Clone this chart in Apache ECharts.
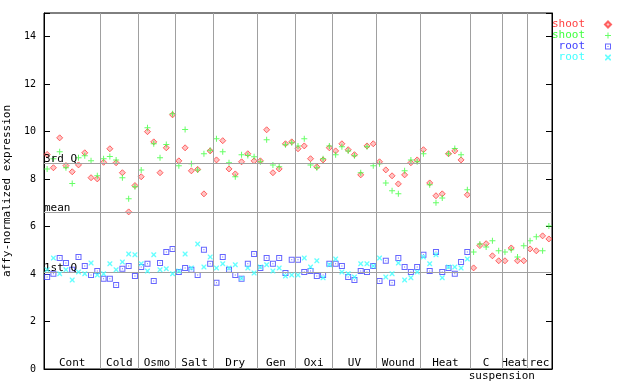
<!DOCTYPE html>
<html><head><meta charset="utf-8">
<script src="https://cdn.jsdelivr.net/npm/echarts@6/dist/echarts.min.js"></script>
<style>html,body{margin:0;padding:0;background:#fff}#c{width:640px;height:384px}</style>
</head><body><div id="c"></div>
<script>
// ---- data ----
const groupNames = ['Cont','Cold','Osmo','Salt','Dry','Gen','Oxi','UV','Wound','Heat','C','Heat','rec'];
const groupSizes = [9,6,6,6,7,6,6,7,7,8,5,4,4];
const subLabel = 'suspension';
const yTicks = [0,2,4,6,8,10,12,14];
const refNames = ['3rd Q','mean','1st Q'];
const refValues = [8.69, 6.62, 4.09];
const seriesNames = ['shoot','shoot','root','root'];

const shootRed = [
  9.04,8.48,9.74,8.57,8.31,8.60,9.11,8.06,8.01,
  8.71,9.28,8.69,8.27,6.62,7.73,
  8.10,10.00,9.57,8.27,9.32,10.71,
  8.77,9.32,8.35,8.41,7.38,9.19,
  8.81,9.62,8.43,8.22,8.73,9.07,8.77,
  8.77,10.08,8.27,8.43,9.49,9.57,
  9.28,9.40,8.86,8.52,8.81,9.32,
  9.19,9.49,9.24,9.03,8.18,9.40,9.49,
  8.73,8.39,8.14,7.80,8.18,8.69,8.81,
  9.24,7.84,7.30,7.38,9.07,9.19,8.81,7.34,
  4.26,5.20,5.28,4.77,4.56,
  4.56,5.10,4.56,4.56,
  5.06,4.98,5.61,5.48
];
const shootGreen = [
  8.43,8.86,9.15,8.48,7.82,8.90,8.98,8.77,8.14,
  8.86,8.95,8.81,8.06,7.17,7.68,
  8.39,10.16,9.49,8.90,9.46,10.75,
  8.56,10.09,8.65,8.38,9.07,9.22,
  9.70,9.15,8.69,8.10,9.03,9.00,8.94,
  8.73,9.66,8.60,8.52,9.45,9.53,
  9.40,9.70,8.60,8.48,8.86,9.40,
  9.03,9.36,9.19,8.98,8.27,9.36,8.56,
  8.65,7.84,7.51,7.38,8.35,8.81,8.73,
  9.07,7.76,7.00,7.21,9.07,9.29,9.03,7.55,
  4.93,5.27,5.14,5.40,4.98,
  4.93,5.02,4.72,5.19,
  5.40,5.57,4.98,6.03
];
const rootBlue = [
  3.88,4.01,4.68,4.47,4.18,4.72,4.34,3.96,4.13,
  3.80,3.80,3.54,4.22,4.34,3.92,
  4.30,4.43,3.71,4.47,4.93,5.06,
  4.09,4.26,4.18,3.96,5.02,4.43,
  3.63,4.72,4.18,3.96,3.80,4.43,4.85,
  4.26,4.68,4.43,4.68,4.05,4.60,
  4.60,4.09,4.13,3.92,3.96,4.43,
  4.43,4.34,3.88,3.75,4.13,4.09,4.34,
  3.71,4.56,3.63,4.68,4.30,4.09,4.30,
  4.81,4.13,4.93,4.09,4.26,4.01,4.51,4.93
];
const rootCyan = [
  4.18,4.68,4.01,4.18,3.75,4.09,4.01,4.47,3.96,
  4.01,4.43,4.18,4.51,4.85,4.81,
  4.43,4.13,4.81,4.18,4.22,4.01,
  4.13,4.85,4.26,5.27,4.30,4.72,
  4.26,4.43,4.26,4.39,3.82,4.26,4.05,
  4.30,4.39,4.13,4.26,3.92,3.96,
  3.96,4.68,4.30,4.56,3.84,4.39,
  4.64,4.09,4.01,3.88,4.43,4.43,4.34,
  4.68,3.88,4.01,4.47,3.75,3.84,4.09,
  4.72,4.43,4.81,3.84,4.30,4.30,4.26,4.64
];

// ---- build ----
const FONT = 'DejaVu Sans Mono';
const colors = ['#ff4040','#40ff40','#4040ff','#40ffff'];
const bounds = [0];
groupSizes.forEach(s => bounds.push(bounds[bounds.length-1] + s));
const total = bounds[bounds.length-1];
const toPts = arr => arr.map((v,i) => [i + 0.5, v]);

const symbols = [
  'path://M3,0L6,3L3,6L0,3Z',
  'path://M2.5,0H3.5V2.5H6V3.5H3.5V6H2.5V3.5H0V2.5H2.5Z',
  'path://M0,0H6V6H0Z M1,1V5H5V1Z M2.5,2.5H3.5V3.5H2.5Z',
  'path://M0,0H1L2.5,1.5L4,0H5V1L3.5,2.5L5,4V5H4L2.5,3.5L1,5H0V4L1.5,2.5L0,1Z'
];
const sizes = [6,6,6,5];
const styles = [
  {color:'rgba(255,120,120,0.55)', borderColor:'#ff4040', borderWidth:1},
  {color:colors[1]},
  {color:colors[2]},
  {color:colors[3]}
];
const datas = [shootRed, shootGreen, rootBlue, rootCyan];
const keys = seriesNames.map((n,i) => n + '_' + i);

const markAreaData = groupNames.map((g,k) => [
  {xAxis: bounds[k], name: g}, {xAxis: bounds[k+1]}
]);
const subArea = [[{xAxis: bounds[10], name: subLabel}, {xAxis: bounds[12]+1}]];

const series = [{
  type: 'scatter', data: [], z: 1, silent: true,
  markLine: {
    silent: true, symbol: ['none','none'], animation: false,
    lineStyle: {color:'#a0a0a0', width:1, type:'solid'},
    data: bounds.slice(1, -1).map(b => ({xAxis: b, label:{show:false}}))
      .concat(refValues.map((v,k) => ({
        yAxis: v,
        label: {show:true, formatter: refNames[k], position:'insideStartTop',
                distance:[0,-2], color:'#000', fontFamily: FONT, fontSize: 11}
      })))
  },
  markArea: {
    silent: true, animation: false,
    itemStyle: {color:'rgba(0,0,0,0)'},
    label: {show:true, position:'insideBottom', distance:0, color:'#000', fontFamily:FONT, fontSize:11},
    data: markAreaData
  }
}, {
  type: 'scatter', data: [], z: 1, silent: true,
  markArea: {
    silent: true, animation: false,
    itemStyle: {color:'rgba(0,0,0,0)'},
    label: {show:true, position:'bottom', distance:2, color:'#000', fontFamily:FONT, fontSize:11},
    data: subArea
  }
}];
keys.forEach((k,i) => series.push({
  name: k, type: 'scatter', z: 2 + i,
  symbol: symbols[i], symbolSize: sizes[i], symbolKeepAspect: true,
  itemStyle: styles[i], animation: false,
  data: toPts(datas[i])
}));

const chart = echarts.init(document.getElementById('c'), null, {renderer:'canvas'});
chart.setOption({
  animation: false,
  textStyle: {fontFamily: FONT},
  grid: {left:44, top:13, width:508, height:356, containLabel:false, outerBoundsMode:'none',
         show:true, borderColor:'#000', borderWidth:1, backgroundColor:'transparent'},
  legend: {
    orient:'vertical', right:23, top:14, align:'right', padding:5,
    itemWidth:6, itemHeight:6, itemGap:0, symbolKeepAspect:true,
    formatter: n => n.split('_')[0],
    textStyle: {fontFamily:FONT, fontSize:11, lineHeight:11, padding:[0,15,0,0]},
    data: keys.map((k,i) => ({name:k, textStyle:{color:colors[i]}}))
  },
  xAxis: {
    type:'value', min:0, max:total,
    axisLine:{show:true, lineStyle:{color:'#000'}}, axisTick:{show:false},
    axisLabel:{show:false}, splitLine:{show:false}
  },
  yAxis: [{
    type:'value', min:0, max:15, interval:2,
    name:'affy-normalized expression', nameLocation:'middle', nameGap:23, nameRotate:90,
    nameTextStyle:{fontFamily:FONT, fontSize:11, color:'#000'},
    axisLine:{show:true, lineStyle:{color:'#000'}},
    axisTick:{show:true, inside:true, length:6, lineStyle:{color:'#000'}},
    axisLabel:{color:'#000', fontFamily:FONT, fontSize:10, margin:8,
               formatter: v => (yTicks.indexOf(v) >= 0 ? String(v) : '')},
    splitLine:{show:false}
  }, {
    type:'value', min:0, max:15, interval:2, position:'right',
    axisLine:{show:true, lineStyle:{color:'#000'}},
    axisTick:{show:true, inside:true, length:6, lineStyle:{color:'#000'}},
    axisLabel:{show:false}, splitLine:{show:false}
  }],
  series: series
});
</script>
</body></html>
